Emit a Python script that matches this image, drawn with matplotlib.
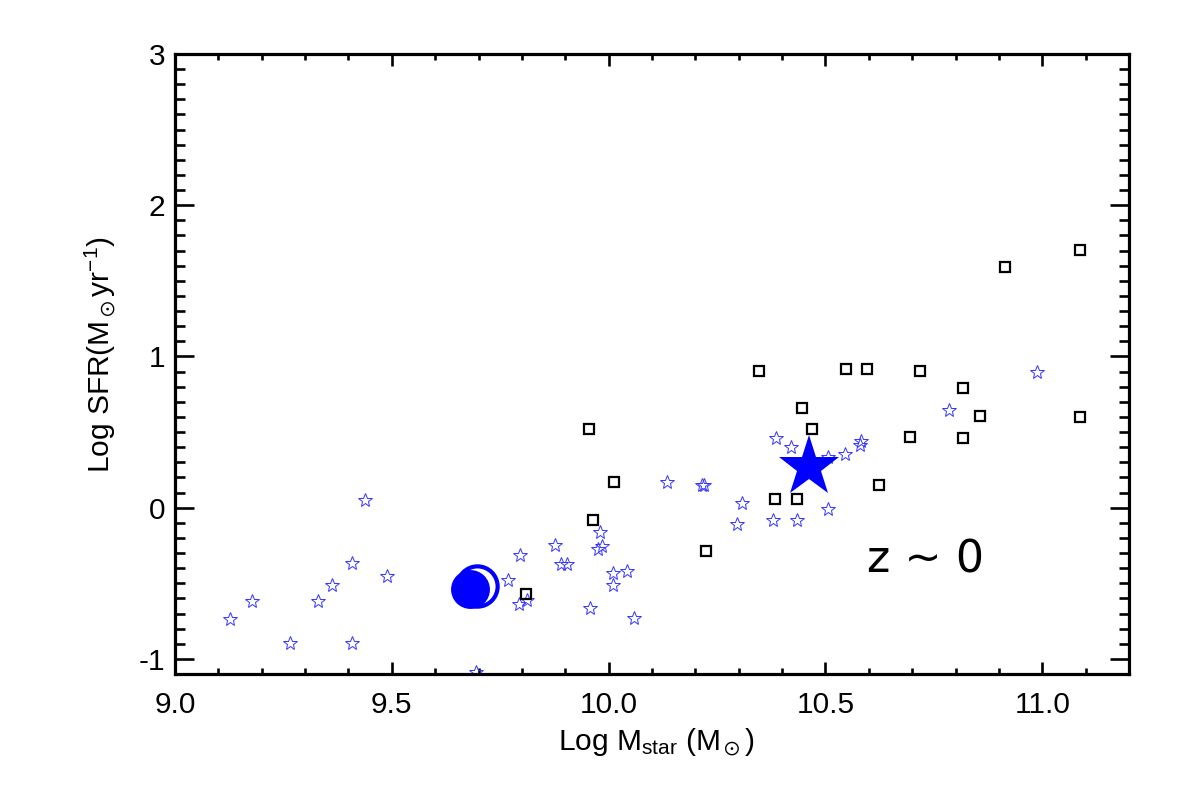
import matplotlib
matplotlib.use("Agg")
import matplotlib.pyplot as plt
from matplotlib.ticker import MultipleLocator

plt.rcParams['font.family'] = ['Liberation Sans', 'DejaVu Sans']
plt.rcParams['mathtext.fontset'] = 'custom'
plt.rcParams['mathtext.rm'] = 'Liberation Sans'
plt.rcParams['mathtext.it'] = 'Liberation Sans'
plt.rcParams['mathtext.sf'] = 'Liberation Sans'
plt.rcParams['mathtext.fallback'] = 'stixsans'

# Small open stars (blue)
star_x = [9.127, 9.177, 9.265, 9.330, 9.361, 9.409, 9.409, 9.4375, 9.489,
          9.795, 9.768, 9.793, 9.811, 9.876, 9.890, 9.904, 9.957, 9.979, 9.984,
          9.976, 10.011, 10.042, 10.011, 10.059, 10.135, 10.215, 9.694,
          10.220, 10.308, 10.295, 10.385, 10.420, 10.380, 10.434, 10.505,
          10.506, 10.546, 10.583, 10.580, 10.987, 10.784]
star_y = [-0.733, -0.616, -0.892, -0.616, -0.510, -0.366, -0.894, 0.051, -0.452,
          -0.311, -0.479, -0.634, -0.609, -0.247, -0.373, -0.373, -0.662, -0.164, -0.252,
          -0.274, -0.433, -0.417, -0.510, -0.727, 0.172, 0.150, -1.09,
          0.150, 0.031, -0.108, 0.459, 0.404, -0.079, -0.079, -0.009,
          0.333, 0.356, 0.444, 0.413, 0.896, 0.647]

# Open squares (black)
sq_x = [9.954, 10.013, 9.965, 9.809, 10.225, 10.346, 10.547, 10.596, 10.717,
        10.447, 10.468, 10.696, 10.624, 10.384, 10.434, 11.086, 10.913, 10.817,
        10.856, 11.086, 10.817, 11.215]
sq_y = [0.519, 0.168, -0.084, -0.574, -0.285, 0.901, 0.918, 0.918, 0.901,
        0.658, 0.519, 0.468, 0.148, 0.058, 0.058, 1.702, 1.591, 0.788,
        0.609, 0.598, 0.459, 1.243]

# Highlighted objects
big_star_x, big_star_y = [10.462], [0.267]
ring_x, ring_y = [9.697], [-0.517]
disk_x, disk_y = [9.681], [-0.539]

xlim = (9.0, 11.2)
ylim = (-1.1, 3.0)
xticks = [9.0, 9.5, 10.0, 10.5, 11.0]
xticklabels = ['9.0', '9.5', '10.0', '10.5', '11.0']
yticks = [-1, 0, 1, 2, 3]
yticklabels = ['-1', '0', '1', '2', '3']

fig = plt.figure(figsize=(11.81, 7.86), dpi=100)
ax = fig.add_axes([175/1181, 112/786, (1129-175)/1181, (674-54)/786])

ax.plot(star_x, star_y, linestyle='none', marker='*', markersize=10.5,
        markerfacecolor='none', markeredgecolor='#3333ff', markeredgewidth=0.7,
        clip_on=True)
ax.plot(sq_x, sq_y, linestyle='none', marker='s', markersize=7,
        markerfacecolor='none', markeredgecolor='black', markeredgewidth=1.6)
ax.plot(ring_x, ring_y, linestyle='none', marker='o', markersize=29,
        markerfacecolor='none', markeredgecolor='blue', markeredgewidth=3)
ax.plot(disk_x, disk_y, linestyle='none', marker='o', markersize=28,
        markerfacecolor='blue', markeredgecolor='blue', markeredgewidth=0)
ax.plot(big_star_x, big_star_y, linestyle='none', marker='*', markersize=46,
        markerfacecolor='blue', markeredgecolor='blue', markeredgewidth=0)

ax.set_xlim(*xlim)
ax.set_ylim(*ylim)
ax.set_xticks(xticks)
ax.set_xticklabels(xticklabels)
ax.set_yticks(yticks)
ax.set_yticklabels(yticklabels)
ax.xaxis.set_minor_locator(MultipleLocator(0.1))
ax.yaxis.set_minor_locator(MultipleLocator(0.1))

for s in ax.spines.values():
    s.set_linewidth(2.3)
ax.tick_params(axis='both', which='both', direction='in', top=True, right=True,
               width=1.9, labelsize=21.5)
ax.tick_params(axis='x', which='major', length=8.5, pad=12)
ax.tick_params(axis='x', which='minor', length=4)
ax.tick_params(axis='y', which='major', length=13.5, pad=7)
ax.tick_params(axis='y', which='minor', length=7.5)

fig.text(656/1181, 1-743/786, r'Log M$_{\rm star}$ (M$_\odot$)', fontsize=21.5,
         ha='center', va='center')
fig.text(100/1181, 1-355/786, r'Log SFR(M$_\odot$yr$^{-1}$)', fontsize=21.5,
         ha='center', va='center', rotation=90)
ax.text(10.595, -0.43, 'z ~ 0', fontsize=32, family='DejaVu Sans',
        ha='left', va='baseline')

fig.savefig('out.png', dpi=100)
